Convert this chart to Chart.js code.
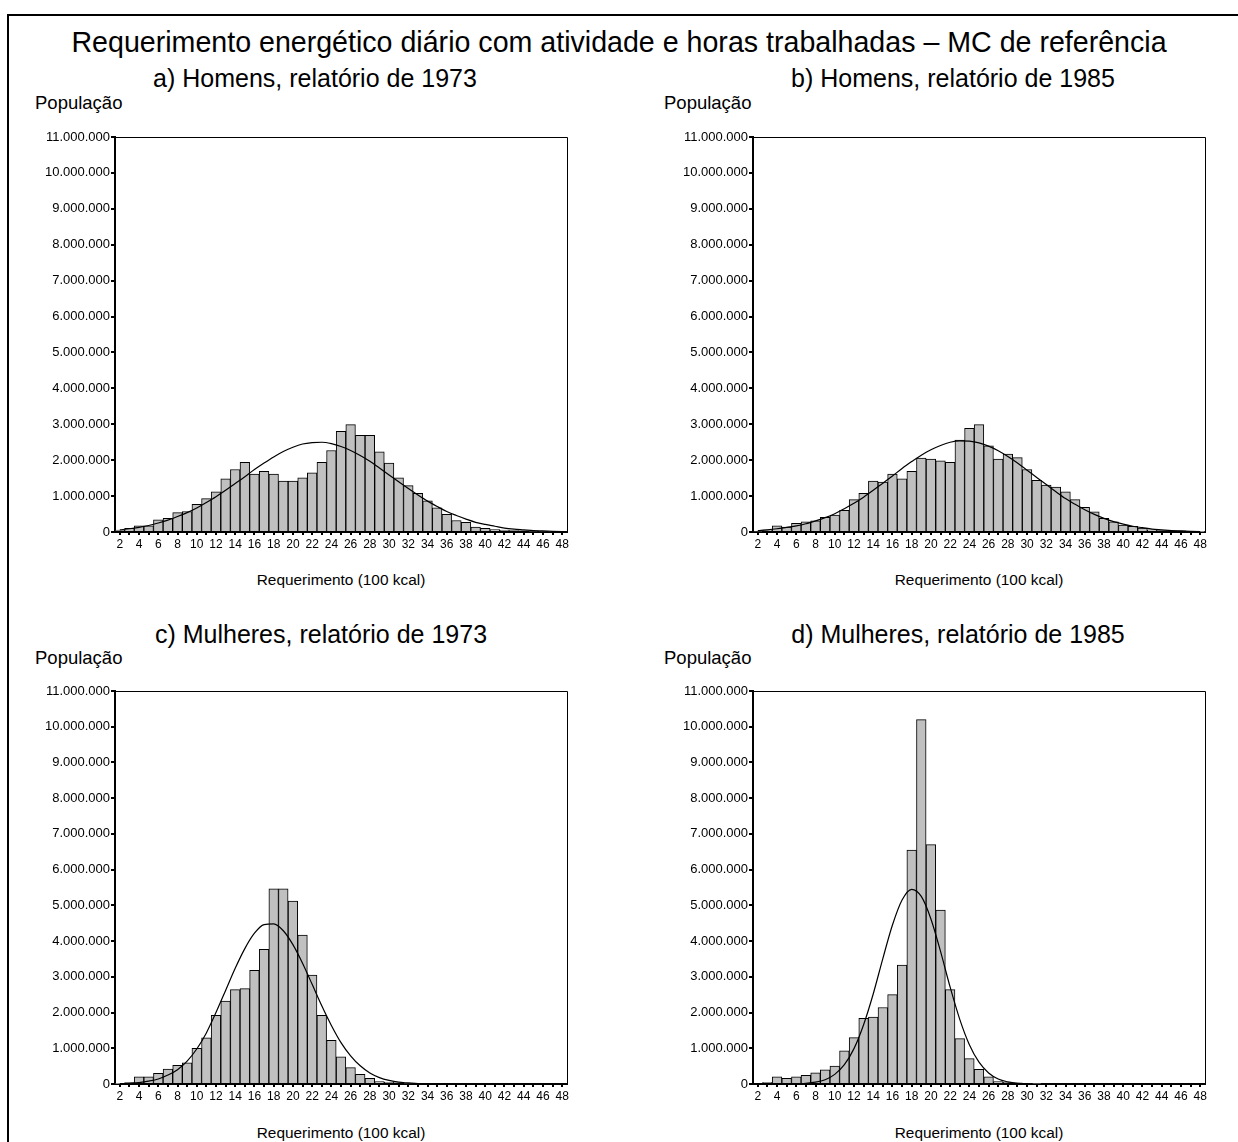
<!DOCTYPE html>
<html>
<head>
<meta charset="utf-8">
<script src="https://cdn.jsdelivr.net/npm/chart.js@4.4.1/dist/chart.umd.min.js"></script>
<style>
  html, body { margin:0; padding:0; background:#fff; }
  body { width:1238px; height:1142px; position:relative; overflow:hidden; font-family: Arial, "Liberation Sans", sans-serif; color:#000; }
  .frame { position:absolute; left:7px; top:14px; width:1400px; height:1400px; border-left:2px solid #000; border-top:2px solid #000; }
  .txt { position:absolute; white-space:nowrap; line-height:1; }
  .center { text-align:center; }
  canvas { position:absolute; }
</style>
</head>
<body>
<div class="frame"></div>
<div class="txt center" style="left:0;width:1238px;top:28px;font-size:28.6px;">Requerimento energético diário com atividade e horas trabalhadas – MC de referência</div>

<div class="txt center" style="left:115px;width:400px;top:66px;font-size:25px;">a) Homens, relatório de 1973</div>
<div class="txt center" style="left:753px;width:400px;top:66px;font-size:25px;">b) Homens, relatório de 1985</div>
<div class="txt center" style="left:121px;width:400px;top:622px;font-size:25px;">c) Mulheres, relatório de 1973</div>
<div class="txt center" style="left:758px;width:400px;top:622px;font-size:25px;">d) Mulheres, relatório de 1985</div>

<div class="txt" style="left:35px;top:94px;font-size:18.5px;">População</div>
<div class="txt" style="left:664px;top:94px;font-size:18.5px;">População</div>
<div class="txt" style="left:35px;top:649px;font-size:18.5px;">População</div>
<div class="txt" style="left:664px;top:649px;font-size:18.5px;">População</div>

<div class="txt center" style="left:115px;width:452px;top:572px;font-size:15.4px;">Requerimento (100 kcal)</div>
<div class="txt center" style="left:753px;width:452px;top:572px;font-size:15.4px;">Requerimento (100 kcal)</div>
<div class="txt center" style="left:115px;width:452px;top:1125px;font-size:15.4px;">Requerimento (100 kcal)</div>
<div class="txt center" style="left:753px;width:452px;top:1125px;font-size:15.4px;">Requerimento (100 kcal)</div>

<canvas id="ca" width="555" height="430" style="left:20px;top:127px;"></canvas>
<canvas id="cb" width="555" height="430" style="left:658px;top:127px;"></canvas>
<canvas id="cc" width="555" height="428" style="left:20px;top:681px;"></canvas>
<canvas id="cd" width="555" height="428" style="left:658px;top:681px;"></canvas>

<script>
// Categories: requirement in 100 kcal
const categories = [2,3,4,5,6,7,8,9,10,11,12,13,14,15,16,17,18,19,20,21,22,23,24,25,26,27,28,29,30,31,32,33,34,35,36,37,38,39,40,41,42,43,44,45,46,47,48];

// a) Homens, relatório de 1973
const menA_bars = [50000,100000,170000,170000,340000,380000,540000,570000,770000,930000,1120000,1480000,1740000,1940000,1610000,1690000,1610000,1420000,1420000,1510000,1650000,1940000,2270000,2800000,2990000,2690000,2690000,2230000,1920000,1510000,1290000,1080000,870000,670000,490000,320000,270000,140000,100000,70000,50000,40000,30000,20000,20000,10000,0];
const menA_curve = [60000,90000,130000,180000,250000,330000,430000,540000,670000,820000,980000,1160000,1350000,1540000,1740000,1920000,2090000,2240000,2360000,2450000,2490000,2500000,2460000,2380000,2270000,2130000,1970000,1780000,1590000,1400000,1210000,1030000,860000,710000,570000,460000,360000,270000,210000,160000,110000,80000,60000,40000,30000,20000,10000];

// b) Homens, relatório de 1985
const menB_bars = [20000,60000,170000,140000,240000,280000,310000,410000,470000,600000,900000,1080000,1420000,1390000,1610000,1480000,1690000,2060000,2030000,1980000,1940000,2560000,2890000,2990000,2400000,2030000,2170000,2070000,1740000,1440000,1310000,1250000,1120000,900000,690000,560000,380000,280000,190000,160000,110000,60000,40000,30000,30000,20000,10000];
const menB_curve = [40000,60000,90000,130000,170000,230000,310000,400000,510000,650000,800000,970000,1160000,1360000,1560000,1770000,1960000,2140000,2290000,2410000,2500000,2540000,2530000,2480000,2390000,2260000,2100000,1920000,1720000,1520000,1320000,1120000,930000,770000,620000,490000,380000,290000,220000,160000,120000,80000,60000,40000,30000,20000,10000];

// c) Mulheres, relatório de 1973
const womenA_bars = [10000,40000,200000,200000,300000,420000,520000,590000,1000000,1290000,1920000,2320000,2640000,2670000,3180000,3770000,5460000,5460000,5120000,4170000,3050000,1920000,1220000,760000,460000,270000,160000,70000,50000,30000,20000,10000,0,0,0,0,0,0,0,0,0,0,0,0,0,0,0];
const womenA_curve = [10000,20000,40000,80000,140000,250000,400000,640000,980000,1430000,2000000,2620000,3240000,3790000,4220000,4460000,4480000,4290000,3900000,3380000,2790000,2190000,1640000,1160000,790000,510000,310000,180000,100000,50000,30000,10000,10000,0,0,0,0,0,0,0,0,0,0,0,0,0,0];

// d) Mulheres, relatório de 1985
const womenB_bars = [0,50000,200000,160000,200000,240000,310000,400000,500000,930000,1300000,1840000,1870000,2140000,2500000,3330000,6550000,10200000,6700000,4870000,2640000,1270000,710000,410000,200000,70000,50000,30000,20000,10000,0,0,0,0,0,0,0,0,0,0,0,0,0,0,0,0,0];
const womenB_curve = [0,0,0,0,10000,20000,50000,120000,270000,540000,990000,1660000,2520000,3510000,4450000,5150000,5450000,5250000,4620000,3710000,2710000,1810000,1100000,610000,310000,140000,60000,20000,10000,0,0,0,0,0,0,0,0,0,0,0,0,0,0,0,0,0,0];

// Axis settings
const yMax = 11000000;
const yStep = 500000;
const yLabelStep = 1000000;

function fmt(v) {
  return String(Math.round(v)).replace(/\B(?=(\d{3})+(?!\d))/g, '.');
}

const framePlugin = {
  id: 'frameTopRight',
  afterDraw(chart) {
    const {ctx, chartArea} = chart;
    ctx.save();
    ctx.strokeStyle = '#000';
    ctx.lineWidth = 1;
    ctx.beginPath();
    ctx.moveTo(chartArea.left, Math.floor(chartArea.top) + 0.5);
    ctx.lineTo(Math.floor(chartArea.right) + 0.5, Math.floor(chartArea.top) + 0.5);
    ctx.lineTo(Math.floor(chartArea.right) + 0.5, chartArea.bottom);
    ctx.stroke();
    ctx.restore();
  }
};

function makeChart(id, bars, curve, topPad) {
  const ctx = document.getElementById(id);
  return new Chart(ctx, {
    data: {
      labels: categories,
      datasets: [
        {
          type: 'line',
          data: curve,
          borderColor: '#000',
          borderWidth: 1.2,
          pointRadius: 0,
          fill: false,
          tension: 0.4,
          cubicInterpolationMode: 'monotone',
          order: 0
        },
        {
          type: 'bar',
          data: bars,
          backgroundColor: '#c0c0c0',
          borderColor: '#000',
          borderWidth: 1,
          barPercentage: 1,
          categoryPercentage: 1,
          order: 1
        }
      ]
    },
    options: {
      responsive: false,
      animation: false,
      devicePixelRatio: 1,
      layout: { padding: { top: topPad, right: 8, bottom: 0, left: 0 } },
      plugins: { legend: { display: false }, tooltip: { enabled: false }, title: { display: false } },
      scales: {
        x: {
          type: 'category',
          offset: true,
          afterFit(scale) { scale.height = 25; },
          grid: { display: true, drawOnChartArea: false, drawTicks: true, tickLength: 3, lineWidth: 2, color: '#000', offset: false },
          border: { display: true, color: '#000', width: 2 },
          ticks: {
            autoSkip: false, maxRotation: 0, minRotation: 0, padding: 2, color: '#000',
            font: { family: 'Arial, "Liberation Sans", sans-serif', size: 12 },
            callback: function(val, idx) { const c = categories[idx]; return c % 2 === 0 ? String(c) : ''; }
          }
        },
        y: {
          min: 0, max: yMax,
          afterFit(scale) { scale.width = 95; },
          grid: {
            display: true, drawOnChartArea: false, drawTicks: true, tickLength: 4, color: '#000',
            lineWidth: (c) => (c.tick && c.tick.value % yLabelStep === 0) ? 2 : 1
          },
          border: { display: true, color: '#000', width: 2 },
          ticks: {
            stepSize: yStep, padding: 1, color: '#000',
            font: { family: 'Arial, "Liberation Sans", sans-serif', size: 13 },
            callback: (v) => (v % yLabelStep === 0) ? fmt(v) : ''
          }
        }
      }
    },
    plugins: [framePlugin]
  });
}

makeChart('ca', menA_bars, menA_curve, 10);
makeChart('cb', menB_bars, menB_curve, 10);
makeChart('cc', womenA_bars, womenA_curve, 10);
makeChart('cd', womenB_bars, womenB_curve, 10);
</script>
</body>
</html>
